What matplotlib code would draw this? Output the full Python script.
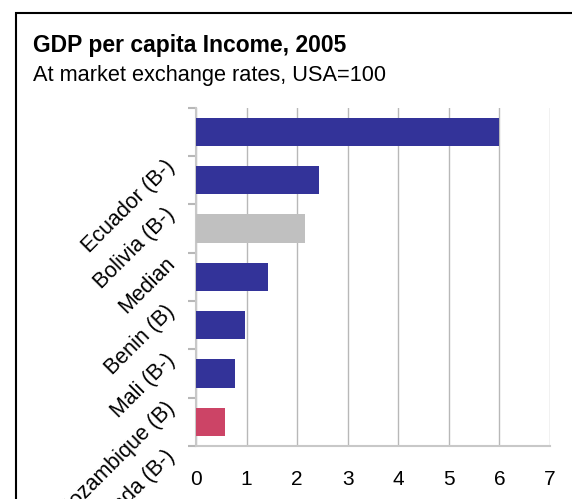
import numpy as np
import matplotlib
matplotlib.use('Agg')
import matplotlib.pyplot as plt
from matplotlib.patches import Rectangle

plt.rcParams['font.family'] = ['Liberation Sans', 'DejaVu Sans']

# data
countries = ['Ecuador (B-)', 'Bolivia (B-)', 'Median', 'Benin (B)', 'Mali (B-)',
             'Mozambique (B)', 'Rwanda (B-)']
gdp_pc = [6.0, 2.44, 2.16, 1.42, 0.97, 0.77, 0.58]
bar_colors = ['#333399', '#333399', '#c0c0c0', '#333399', '#333399', '#333399', '#cc4466']
x_ticks = [0, 1, 2, 3, 4, 5, 6, 7]

W, H = 572, 499
fig = plt.figure(figsize=(W / 100, H / 100), dpi=100)
ax = fig.add_axes([196 / W, 1 - 446 / H, (550 - 196) / W, (446 - 107.7) / H])

pos = np.arange(len(countries))
ax.barh(pos, gdp_pc, height=0.59, color=bar_colors, zorder=3)

ax.set_xlim(0, 7)
ax.set_ylim(len(countries) - 0.5, -0.5)
ax.set_xticks(x_ticks)
ax.set_xticklabels([str(t) for t in x_ticks], fontsize=15)
ax.tick_params(axis='x', length=0, pad=17)

# category labels sit on the boundary below each bar
ax.set_yticks(np.arange(-0.5, len(countries)))
ax.set_yticklabels([''] + countries, fontsize=15.5, rotation=45, ha='right', va='top')
ax.tick_params(axis='y', length=6, width=1.5, color='#b8b8b8', pad=6)

ax.grid(axis='x', color='#b8b8b8', lw=1.0, zorder=0)
for s in ['top', 'right']:
    ax.spines[s].set_visible(False)
for s in ['left', 'bottom']:
    ax.spines[s].set_color('#c8c8c8')
    ax.spines[s].set_linewidth(1.5)

fig.text(33 / W, 1 - 52 / H, 'GDP per capita Income, 2005', fontsize=16.5,
         fontweight='bold', va='baseline', ha='left')
fig.text(33 / W, 1 - 81 / H, 'At market exchange rates, USA=100', fontsize=15.7,
         va='baseline', ha='left')

fig.patches.append(Rectangle((15.7 / W, -0.5), 2, 1.5 - 12.7 / H, transform=fig.transFigure,
                             fill=False, edgecolor='black', lw=1.5))

fig.savefig('out.png', dpi=100)
